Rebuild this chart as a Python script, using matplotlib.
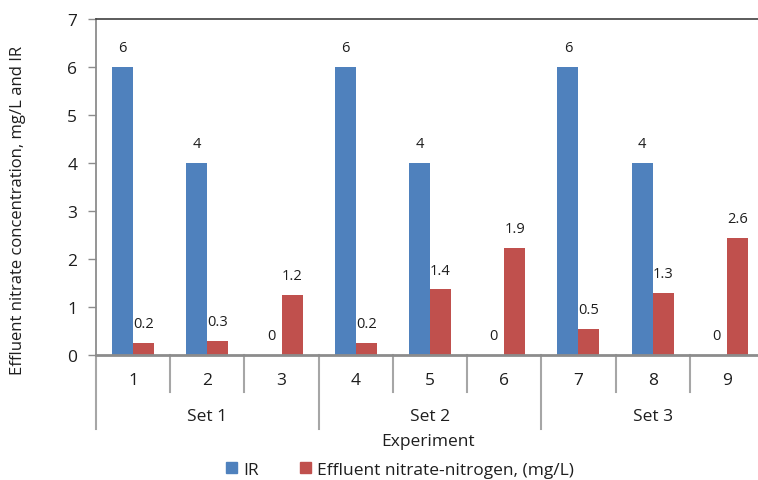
import matplotlib
matplotlib.use("Agg")
import matplotlib.pyplot as plt
from matplotlib.patches import Patch
import matplotlib.transforms as mtransforms

plt.rcParams['font.family'] = ['Open Sans', 'DejaVu Sans']

experiments = ["1", "2", "3", "4", "5", "6", "7", "8", "9"]
sets = ["Set 1", "Set 2", "Set 3"]
ir_values = [6, 4, 0, 6, 4, 0, 6, 4, 0]
ir_labels = ["6", "4", "0", "6", "4", "0", "6", "4", "0"]
nitrate_values = [0.25, 0.28, 1.25, 0.25, 1.36, 2.22, 0.54, 1.28, 2.43]
nitrate_labels = ["0.2", "0.3", "1.2", "0.2", "1.4", "1.9", "0.5", "1.3", "2.6"]

blue = "#4F81BD"
red = "#C0504D"
axis_gray = "#8C8C8C"
txt = "#1E1E1E"

W, H = 758, 481
fig = plt.figure(figsize=(W / 100, H / 100), dpi=100)
left_px, right_px, top_px, bottom_px = 96, 764, 20, 355.7
ax = fig.add_axes([left_px / W, 1 - bottom_px / H, (right_px - left_px) / W, (bottom_px - top_px) / H])

x = list(range(len(experiments)))
bw = 0.283
ax.bar([i - bw / 2 for i in x], ir_values, width=bw, color=blue, label="IR")
ax.bar([i + bw / 2 for i in x], nitrate_values, width=bw, color=red,
       label="Effluent nitrate-nitrogen, (mg/L)")

for i in x:
    ax.annotate(ir_labels[i], (i - bw / 2, ir_values[i]), xytext=(0, 14), textcoords="offset points",
                ha="center", va="center", fontsize=10.5, color=txt)
    ax.annotate(nitrate_labels[i], (i + bw / 2, nitrate_values[i]), xytext=(0, 14), textcoords="offset points",
                ha="center", va="center", fontsize=10.5, color=txt)

ax.set_xlim(-0.5, len(experiments) - 0.5)
ax.set_ylim(0, 7)
ax.set_yticks(range(0, 8))
ax.tick_params(axis="y", direction="out", length=5.5, width=1, color=axis_gray, pad=8,
               labelsize=12.5, labelcolor=txt)
ax.set_xticks([])

ax.spines["right"].set_visible(False)
ax.spines["top"].set_color("#404040")
ax.spines["top"].set_linewidth(1.2)
ax.spines["left"].set_color(axis_gray)
ax.spines["left"].set_linewidth(1.3)
ax.spines["bottom"].set_color(axis_gray)
ax.spines["bottom"].set_linewidth(2)

trans = mtransforms.blended_transform_factory(ax.transData, ax.transAxes)
ah = bottom_px - top_px
sep_color = "#A6A6A6"
for i in range(len(experiments) + 1):
    xb = i - 0.5
    depth = 74 if i % 3 == 0 else 37
    ax.plot([xb, xb], [0, -depth / ah], transform=trans, clip_on=False, color=sep_color, lw=1.5)

for i, lab in enumerate(experiments):
    ax.text(i, -25 / ah, lab, transform=trans, ha="center", va="center", fontsize=12.5, color=txt)
for g, lab in enumerate(sets):
    ax.text(g * 3 + 1, -61.5 / ah, lab, transform=trans, ha="center", va="center", fontsize=12.5, color=txt)

fig.text(428 / W, 1 - 442 / H, "Experiment", ha="center", va="center", fontsize=12.5, color=txt)
fig.text(18 / W, 1 - 210 / H, "Effluent nitrate concentration, mg/L and IR", rotation=90,
         ha="center", va="center", fontsize=12, color=txt)

handles = [Patch(color=blue, label="IR"), Patch(color=red, label="Effluent nitrate-nitrogen, (mg/L)")]
fig.legend(handles=handles, loc="center", bbox_to_anchor=(400 / W, 1 - 471 / H), ncol=2, frameon=False,
           fontsize=12.5, handlelength=0.6, handleheight=0.6, handletextpad=0.35, columnspacing=2.4,
           labelcolor=txt)

fig.savefig("out.png", dpi=100)
